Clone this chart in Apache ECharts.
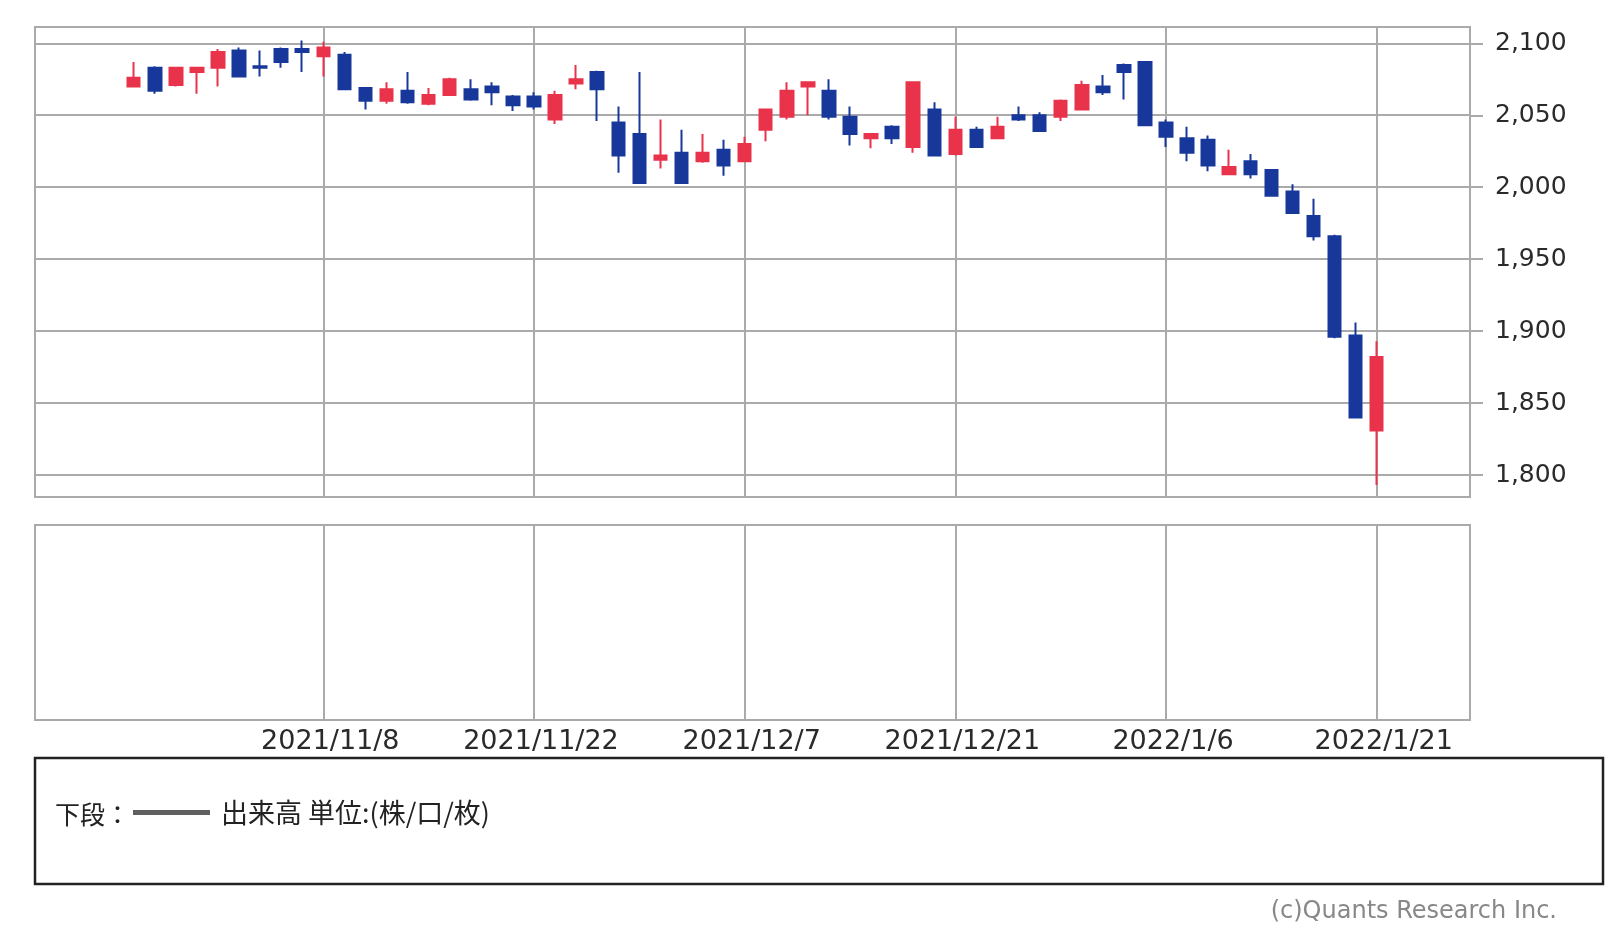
<!DOCTYPE html>
<html><head><meta charset="utf-8">
<script src="https://cdn.jsdelivr.net/npm/echarts@6/dist/echarts.min.js"></script>
<style>html,body{margin:0;padding:0;background:#fff}#c{width:1606px;height:942px}</style>
</head><body><div id="c"></div>
<script>
const dates = ['2021/10/25','2021/10/26','2021/10/27','2021/10/28','2021/10/29','2021/11/1','2021/11/2','2021/11/4','2021/11/5','2021/11/8',
'2021/11/9','2021/11/10','2021/11/11','2021/11/12','2021/11/15','2021/11/16','2021/11/17','2021/11/18','2021/11/19','2021/11/22',
'2021/11/24','2021/11/25','2021/11/26','2021/11/29','2021/11/30','2021/12/1','2021/12/2','2021/12/3','2021/12/6','2021/12/7',
'2021/12/8','2021/12/9','2021/12/10','2021/12/13','2021/12/14','2021/12/15','2021/12/16','2021/12/17','2021/12/20','2021/12/21',
'2021/12/22','2021/12/23','2021/12/24','2021/12/27','2021/12/28','2021/12/29','2021/12/30','2022/1/4','2022/1/5','2022/1/6',
'2022/1/7','2022/1/11','2022/1/12','2022/1/13','2022/1/14','2022/1/17','2022/1/18','2022/1/19','2022/1/20','2022/1/21'];
const opens  = [2070,2083,2071,2080,2083,2095,2084,2096,2096,2091, 2092,2069,2060,2067,2058,2064,2068,2070,2063,2063,
                2047,2072,2080,2045,2037,2019,2024,2018,2026,2018, 2040,2049,2070,2067,2049,2034,2042,2028,2054,2023,
                2040,2034,2050,2050,2049,2054,2070,2085,2087,2045, 2034,2033,2009,2018,2012,1997,1980,1966,1897,1831];
const closes = [2076,2067,2083,2083,2094,2077,2083,2087,2094,2097, 2068,2060,2068,2059,2064,2075,2061,2066,2057,2056,
                2064,2075,2068,2022,2003,2022,2003,2024,2015,2030, 2054,2067,2073,2049,2037,2037,2034,2073,2022,2040,
                2028,2042,2047,2039,2060,2071,2066,2080,2043,2035, 2024,2015,2014,2009,1994,1982,1966,1896,1840,1882];
const lows   = [2070,2065,2070,2065,2070,2077,2077,2083,2080,2077, 2068,2054,2058,2058,2057,2064,2060,2057,2053,2054,
                2044,2068,2046,2010,2003,2013,2003,2017,2008,2018, 2032,2047,2050,2047,2029,2027,2030,2024,2022,2022,
                2028,2034,2046,2039,2046,2054,2064,2061,2043,2028, 2018,2011,2009,2006,1994,1982,1963,1895,1840,1793];
const highs  = [2087,2084,2083,2083,2096,2097,2095,2097,2102,2101, 2094,2069,2073,2080,2069,2076,2075,2073,2064,2066,
                2067,2085,2081,2056,2080,2047,2040,2037,2033,2035, 2054,2073,2073,2075,2056,2037,2043,2073,2059,2049,
                2042,2049,2056,2052,2061,2074,2078,2086,2087,2047, 2042,2036,2026,2023,2012,2002,1992,1967,1906,1893];
const labelDates = ['2021/11/8','2021/11/22','2021/12/7','2021/12/21','2022/1/6','2022/1/21'];
const yTicks = [1800,1850,1900,1950,2000,2050,2100];
const volumeName = '出来高 単位:(株/口/枚)';
const volumes = [];

const RED = '#e8334a', BLUE = '#17389a', GRID = '#aaaaaa';
const PAD = 4;
const cats = [];
for (let i = 0; i < PAD; i++) cats.push('padL' + i);
dates.forEach(d => cats.push(d));
for (let i = 0; i < PAD; i++) cats.push('padR' + i);
const candleData = dates.map((d, i) => [d, opens[i], closes[i], lows[i], highs[i]]);
const showAt = (idx, val) => labelDates.indexOf(val) >= 0;

// geometry
const slotW = 21.068, firstX = 133.7;
const cLeft = firstX - PAD * slotW;
const cWidth = (cats.length - 1) * slotW;
const frameL = 35, frameR = 1470, topT = 27, topB = 497;
const y2100 = 43.3, y1800 = 475.0;
const pxPerUnit = (y1800 - y2100) / (yTicks[yTicks.length-1] - yTicks[0]);
const yMaxC = yTicks[yTicks.length-1] + (y2100 - topT) / pxPerUnit;
const yMinC = yTicks[0] - (topB - y1800) / pxPerUnit;

const chart = echarts.init(document.getElementById('c'), null, {renderer: 'canvas'});
chart.setOption({
  backgroundColor: '#fff',
  animation: false,
  grid: [
    {left: cLeft, width: cWidth, top: topT, height: topB - topT},
    {left: frameL, width: frameR - frameL, top: y2100, height: y1800 - y2100},
    {left: cLeft, width: cWidth, top: 525, height: 195}
  ],
  xAxis: [
    {type: 'category', gridIndex: 0, data: cats, boundaryGap: false,
     axisLine: {show: false, onZero: false}, axisTick: {show: false}, axisLabel: {show: false},
     splitLine: {show: true, interval: showAt, lineStyle: {color: GRID, width: 2}}},
    {type: 'value', gridIndex: 1, min: 0, max: 1, show: false, axisLine: {onZero: false}},
    {type: 'category', gridIndex: 2, data: cats, boundaryGap: false,
     axisLine: {show: false, onZero: false}, axisTick: {show: false},
     splitLine: {show: true, interval: showAt, lineStyle: {color: GRID, width: 2}},
     axisLabel: {show: true, interval: showAt, margin: 8, fontSize: 27, fontFamily: 'DejaVu Sans',
                 color: '#2a2a2a', padding: [0, 0, 0, 14]}}
  ],
  yAxis: [
    {type: 'value', gridIndex: 0, min: yMinC, max: yMaxC, show: false},
    {type: 'value', gridIndex: 1, position: 'right', min: yTicks[0], max: yTicks[yTicks.length-1], interval: 50,
     axisLine: {show: false, onZero: false},
     axisTick: {show: true, length: 13, lineStyle: {color: GRID, width: 2}},
     splitLine: {show: true, lineStyle: {color: GRID, width: 2}},
     axisLabel: {margin: 25, fontSize: 25, fontFamily: 'DejaVu Sans', color: '#2a2a2a', padding: [3, 0, 0, 0],
                 formatter: v => v.toLocaleString('en-US')}},
    {type: 'value', gridIndex: 2, min: 0, max: 1, show: false}
  ],
  legend: {
    data: [volumeName], left: 133, top: 799, padding: 0, selectedMode: false,
    icon: 'rect', itemWidth: 77, itemHeight: 5,
    itemStyle: {color: '#5f5f5f', borderWidth: 0},
    textStyle: {fontSize: 27, color: '#222', fontFamily: 'Noto Sans CJK JP', padding: [0, 0, 0, 6]}
  },
  series: [
    {type: 'candlestick', name: 'price', xAxisIndex: 0, yAxisIndex: 0, data: candleData,
     encode: {x: 0, y: [1, 2, 3, 4]}, barWidth: 13,
     itemStyle: {color: RED, color0: BLUE, borderColor: RED, borderColor0: BLUE, borderWidth: 2}},
    {type: 'bar', name: volumeName, xAxisIndex: 2, yAxisIndex: 2, data: volumes,
     itemStyle: {color: '#5f5f5f'}}
  ],
  graphic: [
    {type: 'rect', silent: true, z: 100, shape: {x: frameL, y: topT, width: frameR - frameL, height: topB - topT},
     style: {fill: 'none', stroke: GRID, lineWidth: 2}},
    {type: 'rect', silent: true, z: 100, shape: {x: frameL, y: 525, width: frameR - frameL, height: 195},
     style: {fill: 'none', stroke: GRID, lineWidth: 2}},
    {type: 'rect', silent: true, z: 100, shape: {x: 35, y: 758, width: 1568, height: 126},
     style: {fill: 'none', stroke: '#222', lineWidth: 2.5}},
    {type: 'text', silent: true, z: 100, x: 55, y: 814,
     style: {text: '下段：', font: '25px "Noto Sans CJK JP"', fill: '#222', verticalAlign: 'middle', textVerticalAlign: 'middle'}},
    {type: 'text', silent: true, z: 100, x: 1557, y: 912,
     style: {text: '(c)Quants Research Inc.', font: '24px "DejaVu Sans"', fill: '#888', align: 'right', textAlign: 'right',
             verticalAlign: 'middle', textVerticalAlign: 'middle'}}
  ]
});
</script></body></html>
